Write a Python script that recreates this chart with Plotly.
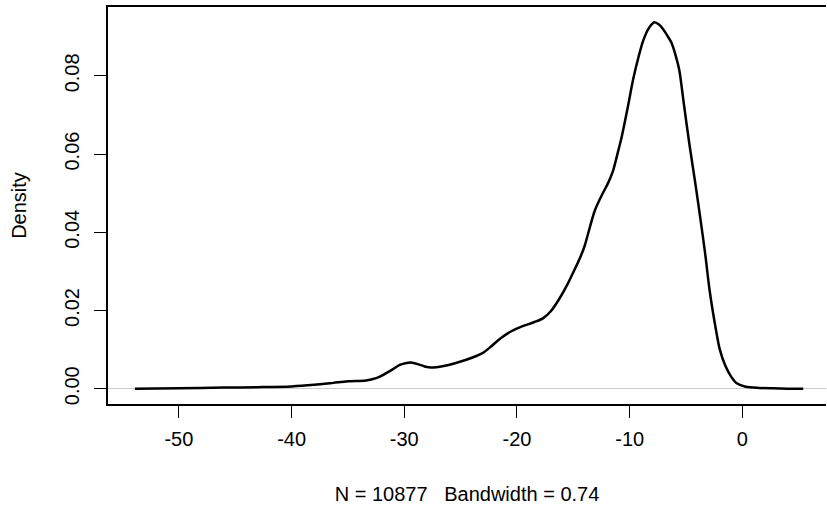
import plotly.graph_objects as go

# Kernel density estimate of the sample (N = 10877, bandwidth = 0.74)
x_vals = [-53.9, -50.0, -46.0, -43.0, -40.0, -38.0, -36.3, -35.0, -33.4, -32.5,
          -31.9, -31.0, -30.4, -29.8, -29.4, -28.8, -28.2, -27.6, -26.5, -25.5,
          -24.5, -23.5, -23.0, -22.3, -21.5, -20.5, -19.5, -18.5, -17.7, -17.0,
          -16.2, -15.5, -15.0, -14.4, -14.0, -13.1, -12.4, -11.9, -11.5, -11.0,
          -10.7, -10.2, -9.7, -9.2, -8.8, -8.3, -7.8, -7.4, -7.0, -6.6,
          -6.3, -5.9, -5.6, -5.2, -4.7, -4.2, -3.8, -3.3, -2.9, -2.4,
          -2.0, -1.5, -1.0, -0.5, 0.3, 1.5, 2.7, 4.0, 5.4]
density = [0.0, 0.0001, 0.0003, 0.0004, 0.0006, 0.0010, 0.0015, 0.0019, 0.0021, 0.0027,
           0.0035, 0.0050, 0.0061, 0.0066, 0.0067, 0.0063, 0.0057, 0.0054, 0.0058, 0.0065,
           0.0074, 0.0085, 0.0092, 0.0108, 0.0128, 0.0147, 0.0160, 0.0170, 0.0180, 0.0198,
           0.0232, 0.0268, 0.0298, 0.0335, 0.0365, 0.0455, 0.0499, 0.0527, 0.0555, 0.0610,
           0.0645, 0.0715, 0.0790, 0.0850, 0.0890, 0.0922, 0.0937, 0.0931, 0.0918, 0.0900,
           0.0885, 0.0850, 0.0815, 0.0730, 0.0625, 0.0530, 0.0450, 0.0345, 0.0250, 0.0160,
           0.0100, 0.0058, 0.0031, 0.0014, 0.0005, 0.0002, 0.0001, 0.00003, 0.0]

x_ticks = [-50, -40, -30, -20, -10, 0]
x_tick_text = ["-50", "-40", "-30", "-20", "-10", "0"]
y_ticks = [0.00, 0.02, 0.04, 0.06, 0.08]
y_tick_text = ["0.00", "0.02", "0.04", "0.06", "0.08"]
x_title = "N = 10877\u00a0\u00a0\u00a0Bandwidth = 0.74"

FONT = "Liberation Sans, Arial, sans-serif"

fig = go.Figure()
fig.add_trace(go.Scatter(
    x=x_vals, y=density, mode="lines",
    line=dict(color="black", width=2.5, shape="spline", smoothing=0.8),
    hoverinfo="skip", showlegend=False,
))

fig.update_layout(
    width=827, height=509,
    margin=dict(l=108, r=1, t=7, b=105),
    paper_bgcolor="white", plot_bgcolor="white",
    font=dict(family=FONT, size=20, color="black"),
    xaxis=dict(
        range=[-56.29, 7.42], tickvals=x_ticks, ticktext=x_tick_text,
        ticks="outside", ticklen=12,
        tickwidth=1.2, tickcolor="black", showgrid=False, zeroline=False,
        showline=True, linecolor="black", linewidth=1.5, mirror=True,
        ticklabelstandoff=4,
        title=dict(text=x_title, standoff=38, font=dict(size=20)),
    ),
    yaxis=dict(
        range=[-0.0039, 0.0976], tickvals=y_ticks, ticktext=y_tick_text,
        tickangle=-90, ticks="outside", ticklen=12, tickwidth=1.2, tickcolor="black",
        showgrid=False, zeroline=True, zerolinecolor="#cccccc", zerolinewidth=1,
        showline=True, linecolor="black", linewidth=1.5,
        ticklabelstandoff=7,
        title=dict(text="Density", standoff=29, font=dict(size=20)),
    ),
)

fig.write_html("out.html")
